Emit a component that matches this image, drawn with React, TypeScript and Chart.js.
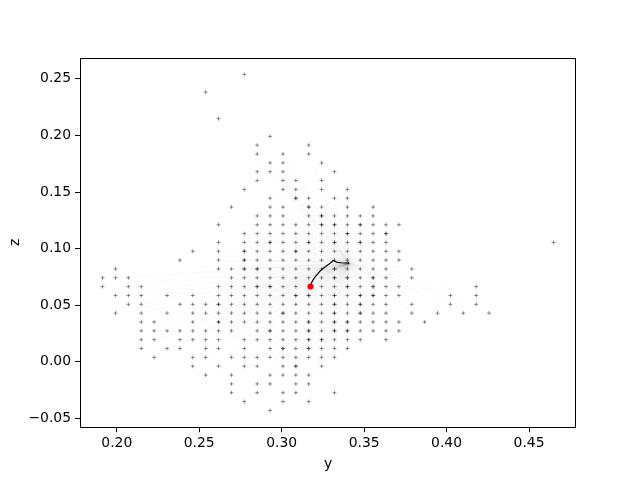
import React, { useEffect, useRef } from "react";
import { Chart, registerables } from "chart.js";

Chart.register(...registerables);

// Grid of starting positions (y values of columns, z values of rows)
const COL_Y = [
  0.19141, 0.19922, 0.20703, 0.21484, 0.22266, 0.23047, 0.23828, 0.24609, 0.25391,
  0.26172, 0.26953, 0.27734, 0.28516, 0.29297, 0.30078, 0.30859, 0.31641, 0.32422,
  0.33203, 0.33984, 0.34766, 0.35547, 0.36328, 0.37109, 0.37891, 0.38672, 0.39453,
  0.40234, 0.41016, 0.41797, 0.42578, 0.43359, 0.44141, 0.44922, 0.45703, 0.46484,
];
const ROW_Z = [
  -0.04297, -0.03516, -0.02734, -0.01953, -0.01172, -0.00391, 0.00391, 0.01172,
  0.01953, 0.02734, 0.03516, 0.04297, 0.05078, 0.05859, 0.06641, 0.07422, 0.08203,
  0.08984, 0.09766, 0.10547, 0.11328, 0.12109, 0.12891, 0.13672, 0.14453, 0.15234,
  0.16016, 0.16797, 0.17578, 0.18359, 0.19141, 0.19922, 0.20703, 0.21484, 0.22266,
  0.23047, 0.23828, 0.24609, 0.25391,
];

// Start points: [row index, column indices]
const START_ROWS: [number, number[]][] = [
  [38, [11]],
  [36, [8]],
  [33, [9]],
  [31, [13]],
  [30, [12, 16]],
  [29, [12, 14, 16]],
  [28, [13, 14, 17]],
  [27, [12, 13, 14, 18]],
  [26, [12, 14, 15, 17]],
  [25, [11, 14, 15, 17, 19]],
  [24, [13, 15, 16, 18, 19]],
  [23, [10, 13, 14, 16, 17, 19, 21]],
  [22, [12, 13, 14, 16, 17, 18, 19, 20, 21]],
  [21, [9, 12, 13, 14, 15, 16, 17, 18, 19, 20, 21, 22, 23]],
  [20, [11, 12, 13, 14, 15, 16, 17, 18, 19, 20, 21, 22]],
  [19, [9, 11, 12, 13, 14, 15, 16, 17, 18, 19, 20, 21, 22, 35]],
  [18, [7, 9, 11, 12, 13, 14, 15, 16, 17, 18, 19, 20, 21, 22, 23]],
  [17, [6, 9, 11, 12, 13, 14, 15, 16, 17, 18, 19, 20, 21, 22, 23]],
  [16, [1, 9, 10, 11, 12, 13, 14, 15, 16, 17, 18, 19, 20, 21, 22, 24]],
  [15, [0, 1, 2, 10, 11, 12, 13, 14, 15, 16, 17, 18, 19, 20, 21, 22, 24]],
  [14, [0, 2, 3, 9, 10, 11, 12, 13, 14, 15, 16, 17, 18, 19, 20, 21, 22, 23, 29]],
  [13, [1, 2, 3, 5, 7, 9, 10, 11, 12, 13, 14, 15, 16, 17, 18, 19, 20, 21, 22, 23, 27, 29]],
  [12, [2, 3, 6, 7, 8, 9, 10, 11, 12, 13, 14, 15, 16, 17, 18, 19, 20, 21, 22, 24, 27, 29]],
  [11, [1, 3, 5, 7, 8, 9, 10, 11, 12, 13, 14, 15, 16, 17, 18, 19, 20, 21, 22, 24, 26, 28, 30]],
  [10, [3, 4, 7, 9, 10, 11, 12, 13, 14, 15, 16, 17, 18, 19, 20, 21, 22, 23, 25]],
  [9, [3, 4, 5, 6, 7, 8, 9, 10, 12, 13, 14, 15, 16, 17, 18, 19, 20, 21, 22, 23]],
  [8, [3, 4, 6, 7, 8, 9, 11, 12, 13, 14, 15, 16, 17, 18, 19, 20, 22]],
  [7, [3, 5, 6, 8, 9, 11, 13, 14, 15, 16, 17, 18, 19]],
  [6, [4, 7, 8, 10, 11, 12, 13, 14, 15, 16, 17, 18]],
  [5, [7, 9, 11, 12, 14, 15, 17]],
  [4, [8, 10, 13, 14, 15, 16]],
  [3, [10, 12, 13, 15, 16]],
  [2, [10, 12, 14, 15, 18]],
  [1, [11, 14, 16]],
  [0, [13]],
];

// Start points that occur twice (drawn darker)
const REPEATED_ROWS: [number, number[]][] = [
  [24, [15]],
  [23, [16]],
  [22, [17]],
  [21, [17, 18, 20]],
  [20, [19, 22]],
  [19, [13, 16, 18, 20]],
  [18, [11, 15]],
  [17, [11]],
  [16, [11, 12, 18]],
  [15, [18, 19, 21]],
  [14, [12, 13, 19, 21]],
  [13, [15, 16, 18, 20, 21]],
  [12, [9, 18, 20]],
  [11, [14, 18, 20]],
  [10, [9, 16, 18, 19]],
  [9, [13, 16, 18, 19]],
  [8, [16, 17]],
  [7, [14, 16]],
  [5, [15]],
];

// Highlighted trajectory
const PATH_Y = [0.3175, 0.318, 0.319, 0.3205, 0.322, 0.3235, 0.3255, 0.3275, 0.3295, 0.3312, 0.3322, 0.3337, 0.336, 0.3408];
const PATH_Z = [0.0666, 0.0695, 0.0722, 0.0755, 0.078, 0.0805, 0.0828, 0.085, 0.0872, 0.0895, 0.0888, 0.0878, 0.0875, 0.0873];
const CURRENT_Y = [0.3175];
const CURRENT_Z = [0.0666];

const X_TICKS = [0.2, 0.25, 0.3, 0.35, 0.4, 0.45];
const Y_TICKS = [-0.05, 0.0, 0.05, 0.1, 0.15, 0.2, 0.25];
const X_LIMITS = [0.1777, 0.4785];
const Y_LIMITS = [-0.0578, 0.2688];

const FONT = { family: "DejaVu Sans", size: 13.9 };

function expand(rows: [number, number[]][]) {
  const pts: { x: number; y: number }[] = [];
  rows.forEach(([r, cols]) => cols.forEach((c) => pts.push({ x: COL_Y[c], y: ROW_Z[r] })));
  return pts;
}

const fmt = (v: number) => {
  const s = Math.abs(v).toFixed(2);
  return v < -1e-9 ? "\u2212" + s : s;
};

const framePlugin = {
  id: "frame",
  afterDatasetsDraw(chart: any) {
    const { ctx, chartArea } = chart;
    ctx.save();
    ctx.strokeStyle = "#000";
    ctx.lineWidth = 1;
    ctx.strokeRect(
      Math.round(chartArea.left) + 0.5,
      Math.round(chartArea.top) + 0.5,
      Math.round(chartArea.right - chartArea.left) - 1,
      Math.round(chartArea.bottom - chartArea.top) - 1
    );
    ctx.restore();
  },
};

export default function App() {
  const ref = useRef<HTMLCanvasElement | null>(null);

  useEffect(() => {
    if (!ref.current) return;
    const starts = expand(START_ROWS);
    const repeated = expand(REPEATED_ROWS);
    const end = { x: PATH_Y[PATH_Y.length - 1], y: PATH_Z[PATH_Z.length - 1] };

    const faint = starts.map((p) => ({
      data: [p, end],
      showLine: true,
      borderColor: "rgba(0,0,0,0.022)",
      borderWidth: 0.8,
      pointRadius: 0,
      order: 4,
    }));

    const chart = new Chart(ref.current, {
      type: "scatter",
      data: {
        datasets: [
          {
            data: CURRENT_Y.map((y, i) => ({ x: y, y: CURRENT_Z[i] })),
            pointStyle: "circle",
            pointRadius: 3,
            backgroundColor: "#ff0000",
            borderColor: "#ff0000",
            borderWidth: 0,
            order: 0,
          },
          {
            data: PATH_Y.map((y, i) => ({ x: y, y: PATH_Z[i] })),
            showLine: true,
            borderColor: "#000",
            borderWidth: 1.2,
            pointRadius: 0,
            order: 1,
          },
          {
            data: repeated,
            pointStyle: "cross",
            pointRadius: 2,
            borderWidth: 1,
            borderColor: "rgba(0,0,0,0.4)",
            order: 2,
          },
          {
            data: starts,
            pointStyle: "cross",
            pointRadius: 2,
            borderWidth: 1,
            borderColor: "rgba(0,0,0,0.42)",
            order: 3,
          },
          ...faint,
        ] as any,
      },
      options: {
        animation: false,
        responsive: false,
        events: [],
        layout: { padding: { left: 0, top: 57.6, right: 64, bottom: 0 } },
        plugins: { legend: { display: false }, tooltip: { enabled: false } },
        scales: {
          x: {
            type: "linear",
            min: X_LIMITS[0],
            max: X_LIMITS[1],
            afterBuildTicks: (s: any) => {
              s.ticks = X_TICKS.map((v) => ({ value: v }));
            },
            afterFit: (s: any) => {
              s.height = 52.8;
            },
            border: { display: false },
            grid: { drawOnChartArea: false, drawTicks: true, tickLength: 5, color: "#000", lineWidth: 1 },
            ticks: { color: "#000", font: FONT, padding: 3, maxRotation: 0, callback: (v: any) => fmt(Number(v)) },
            title: { display: true, text: "y", color: "#000", font: FONT, padding: { top: 0, bottom: 7 } },
          },
          y: {
            type: "linear",
            min: Y_LIMITS[0],
            max: Y_LIMITS[1],
            afterBuildTicks: (s: any) => {
              s.ticks = Y_TICKS.map((v) => ({ value: v }));
            },
            afterFit: (s: any) => {
              s.width = 80;
            },
            border: { display: false },
            grid: { drawOnChartArea: false, drawTicks: true, tickLength: 5, color: "#000", lineWidth: 1 },
            ticks: { color: "#000", font: FONT, padding: 4, callback: (v: any) => fmt(Number(v)) },
            title: { display: true, text: "z", color: "#000", font: FONT, padding: { top: 7, bottom: 0 } },
          },
        },
      },
      plugins: [framePlugin],
    });
    return () => chart.destroy();
  }, []);

  return (
    <div style={{ position: "fixed", left: 0, top: 0, width: 640, height: 480, background: "#fff" }}>
      <canvas ref={ref} width={640} height={480} style={{ width: 640, height: 480, display: "block" }} />
    </div>
  );
}
